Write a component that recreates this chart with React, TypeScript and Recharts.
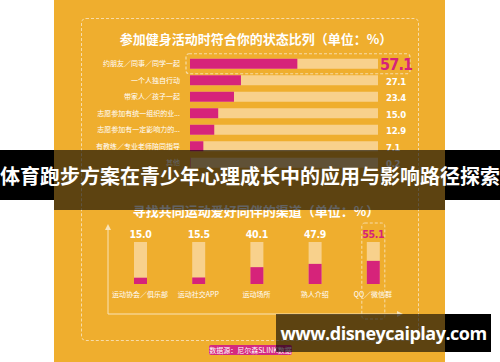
import React from "react";
import { Bar, BarChart, LabelList, XAxis, YAxis } from "recharts";

// 参加健身活动时符合你的状态比列
const stateCategories = [
	"约朋友／同事／同学一起",
	"一个人独自行动",
	"带家人／孩子一起",
	"志愿参加有统一组织的业...",
	"志愿参加有一定影响力的...",
	"有教练／专业老师陪同指导",
	"其他",
];
const stateValues = [57.1, 27.1, 23.4, 15.0, 12.9, 7.1, 0.2];

// 寻找共同运动爱好同伴的渠道
const channelCategories = ["运动协会／俱乐部", "运动社交APP", "运动场所", "熟人介绍", "QQ／微信群"];
const channelValues = [15.0, 15.5, 40.1, 47.9, 55.1];

const ORANGE = "#EFAE2E";
const MAGENTA = "#D6237A";
const LIGHT = "#F8D18C";
const DASH = "#F7DCA8";
const CJK = '"Noto Sans CJK SC", "Noto Sans", sans-serif';
const NUM = '"DejaVu Sans Condensed", "Liberation Sans Narrow", "Roboto", sans-serif';

const stateData = stateCategories.map((name, i) => ({ name, value: stateValues[i] }));
const channelData = channelCategories.map((name, i) => ({ name, value: channelValues[i] }));

const TOP_RIGHT = 378;
const BOTTOM_TOP = 242;
const BOTTOM_BASE = 314;

const StateLabel = (props: any) => {
	const vb = props.viewBox || props;
	const { y, height } = vb;
	const cy = y + height / 2;
	const v = Number(props.value).toFixed(1);
	if (props.index === 0) {
		return (
			<g>
				<rect x={186} y={cy - 10} width={224} height={20} rx={3} fill="none"
					stroke={DASH} strokeWidth={1.2} strokeDasharray="3 2" />
				<text x={380} y={cy + 1} dominantBaseline="central" fill={MAGENTA}
					fontFamily={NUM} fontWeight="bold" fontSize={16} letterSpacing={-0.8}>{v}</text>
			</g>
		);
	}
	return (
		<text x={TOP_RIGHT + 8} y={cy + 1} dominantBaseline="central" fill="#fff"
			fontFamily={NUM} fontWeight="bold" fontSize={9.5} letterSpacing={-0.3}>{v}</text>
	);
};

const ChannelLabel = (props: any) => {
	const vb = props.viewBox || props;
	const { x, width } = vb;
	const cx = x + width / 2;
	const v = Number(props.value).toFixed(1);
	const last = props.index === channelValues.length - 1;
	return (
		<g>
			{last && (
				<rect x={cx - 11.5} y={223} width={23} height={96} rx={3} fill="none"
					stroke={DASH} strokeWidth={1} strokeDasharray="3 2" />
			)}
			<text x={cx} y={BOTTOM_TOP - 8} textAnchor="middle" dominantBaseline="central"
				fill={last ? MAGENTA : "#fff"} fontFamily={NUM} fontWeight="bold" fontSize={10.5} letterSpacing={-0.3}>{v}</text>
		</g>
	);
};

const abs = (l: number, t: number, w: number, h: number, extra: React.CSSProperties = {}): React.CSSProperties => ({
	position: "absolute", left: l, top: t, width: w, height: h, ...extra,
});

export default function App() {
	return (
		<div style={{ position: "fixed", left: 0, top: 0, width: 500, height: 362, background: "#fff", overflow: "hidden" }}>
			<div style={abs(54, 0, 391, 362, { background: ORANGE })} />
			<div style={abs(81, 18, 338, 323, { border: `1px dashed ${DASH}`, borderRadius: 5, boxSizing: "border-box" })} />

			<div style={abs(54, 29, 404, 20, { color: "#fff", fontFamily: CJK, fontWeight: 700, fontSize: 13, textAlign: "center" })}>
				参加健身活动时符合你的状态比列（单位：%）
			</div>

			<div style={abs(0, 0, 500, 362)}>
				<BarChart width={500} height={362} layout="vertical" data={stateData}
					margin={{ top: 55.75, bottom: 190.75, left: 80, right: 500 - TOP_RIGHT }}>
					<XAxis type="number" domain={[0, 100]} hide />
					<YAxis type="category" dataKey="name" width={110} axisLine={false} tickLine={false}
						tickSize={0} tickMargin={10} interval={0}
						tick={{ fill: "#fff", fontSize: 7, fontFamily: CJK }} />
					<Bar dataKey="value" fill={MAGENTA} barSize={10} background={{ fill: LIGHT }} isAnimationActive={false}>
						<LabelList dataKey="value" content={StateLabel} />
					</Bar>
				</BarChart>
			</div>

			<div style={abs(54, 201, 404, 20, { color: "#fff", fontFamily: CJK, fontWeight: 700, fontSize: 13, textAlign: "center" })}>
				寻找共同运动爱好同伴的渠道（单位：%）
			</div>

			<svg style={abs(0, 0, 500, 362)} width={500} height={362}>
				<line x1={108} y1={228} x2={108} y2={BOTTOM_BASE} stroke="#F9E3B8" strokeWidth={1} />
				<path d="M105 230 L108 224 L111 230 Z" fill="#F9E3B8" />
				<line x1={108} y1={BOTTOM_BASE} x2={398} y2={BOTTOM_BASE} stroke="#F9E3B8" strokeWidth={1} />
				<path d="M397 311 L403 314 L397 317 Z" fill="#F9E3B8" />
			</svg>

			<div style={abs(0, 0, 500, 362)}>
				<BarChart width={500} height={362} data={channelData}
					margin={{ top: BOTTOM_TOP, bottom: 362 - BOTTOM_BASE, left: 111, right: 98 }}>
					<XAxis dataKey="name" axisLine={false} tickLine={false} tickSize={0} tickMargin={8} interval={0}
						tick={{ fill: "#fff", fontSize: 7, fontFamily: CJK }} />
					<YAxis type="number" domain={[0, 100]} hide />
					<Bar dataKey="value" fill={MAGENTA} barSize={13} background={{ fill: LIGHT }} isAnimationActive={false}>
						<LabelList dataKey="value" content={ChannelLabel} />
					</Bar>
				</BarChart>
			</div>

			<div style={abs(209, 345, 83, 10, { background: "#D42A80", borderRadius: 2, color: "#fff", fontFamily: CJK, fontSize: 7, lineHeight: "10px", textAlign: "center", whiteSpace: "nowrap" })}>
				数据源：尼尔森SLINK数据
			</div>

			{/* dark bands */}
			<div style={abs(0, 150, 54, 50, { background: "#000" })} />
			<div style={abs(445, 150, 55, 50, { background: "#000" })} />
			<div style={abs(54, 150, 391, 60, { background: "rgba(0,0,0,0.61)" })} />
			<div style={abs(0, 162, 500, 28, { color: "#fff", fontFamily: CJK, fontWeight: 700, fontSize: 20, lineHeight: "28px", textAlign: "center", whiteSpace: "nowrap" })}>
				体育跑步方案在青少年心理成长中的应用与影响路径探索
			</div>

			<div style={abs(276, 314, 169, 38, { background: "rgba(0,0,0,0.61)" })} />
			<div style={abs(445, 314, 46, 38, { background: "#000" })} />
			<div style={abs(276, 314, 215, 38, { color: "#fff", fontFamily: '"Open Sans", sans-serif', fontWeight: 700, fontSize: 18, letterSpacing: -0.5, lineHeight: "38px", textAlign: "center", whiteSpace: "nowrap" })}>
				www.disneycaiplay.com
			</div>
		</div>
	);
}
